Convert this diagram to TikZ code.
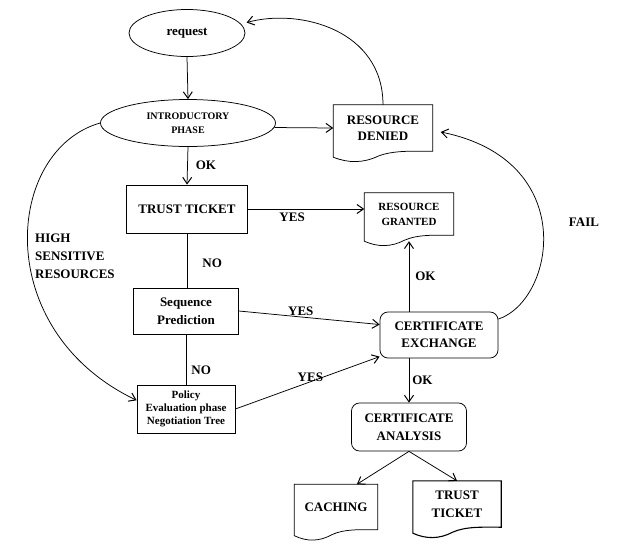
\documentclass[tikz,border=0pt]{standalone}
\usepackage{fontspec}
\setmainfont{Liberation Serif}
\usetikzlibrary{arrows.meta,calc,shapes.geometric}

\newcommand{\fs}[2]{\bfseries\fontsize{#1}{#2}\selectfont}
\tikzset{
  base/.style={font=\fs{13}{17}, align=center, inner sep=0pt},
  ell/.style={base, ellipse, draw, line width=0.75pt},
  box/.style={base, rectangle, draw, line width=0.75pt},
  rbox/.style={box, rounded corners=8pt},
  docnode/.style={base},
  conn/.style={line width=0.75pt, -{Straight Barb[length=6.5pt,width=9pt,line width=1pt]}},
  plainline/.style={line width=0.75pt},
  lbl/.style={font=\fs{13}{17}, inner sep=0pt},
}
\newcommand{\docwave}[2][0.75pt]{%
  \draw[line width=#1] let \p1=(#2.south west), \p2=(#2.north east), \n1={\x2-\x1} in
    (\x1,{\y1-6pt}) -- (\x1,\y2) -- (\x2,\y2) -- (\x2,\y1)
    .. controls ({\x1+0.8*\n1},\y1) and ({\x1+0.6*\n1},{\y1+1pt}) .. ({\x1+0.45*\n1},{\y1-5pt})
    .. controls ({\x1+0.3*\n1},{\y1-12pt}) and ({\x1+0.15*\n1},{\y1-12pt}) .. (\x1,{\y1-6pt}) -- cycle;}

\begin{document}
\begin{tikzpicture}[x=1pt,y=-1pt]
\useasboundingbox (0,0) rectangle (632,552);

% nodes
\node[ell, minimum width=116pt, minimum height=47pt] (req) at (187,33) {request};
\node[ell, minimum width=175pt, minimum height=47pt, font=\fs{10}{14}] (intro) at (188,123) {INTRODUCTORY\\PHASE};
\node[docnode, minimum width=99pt, minimum height=46pt, font=\fs{13}{16}] (rd) at (383,128) {RESOURCE\\DENIED};
\docwave{rd}
\node[box, minimum width=121pt, minimum height=48pt] (tt) at (187,209) {TRUST TICKET};
\node[docnode, minimum width=89pt, minimum height=42pt, font=\fs{11}{15}] (rg) at (409,214) {RESOURCE\\GRANTED};
\docwave{rg}
\node[box, minimum width=105pt, minimum height=46pt, font=\fs{13}{18}] (seq) at (186,311) {Sequence\\Prediction};
\node[box, minimum width=98pt, minimum height=48pt, font=\fs{11}{13}] (pol) at (186,409) {Policy\\Evaluation phase\\Negotiation Tree};
\node[rbox, minimum width=118pt, minimum height=46pt] (ce) at (439,335) {CERTIFICATE\\EXCHANGE};
\node[rbox, minimum width=115pt, minimum height=48pt, font=\fs{13}{18}] (ca) at (409,427) {CERTIFICATE\\ANALYSIS};
\node[docnode, minimum width=83pt, minimum height=45pt] (cach) at (336,507) {CACHING};
\docwave{cach}
\node[docnode, minimum width=88pt, minimum height=46pt, font=\fs{13}{18}] (tt2) at (457,504) {TRUST\\TICKET};
\docwave[1.1pt]{tt2}

\node[lbl, align=left, anchor=west, font=\fs{13}{18}] (hs) at (35,256) {HIGH\\SENSITIVE\\RESOURCES};
\node[lbl] (fail) at (584,222) {FAIL};

% connectors
\draw[conn] (req.south) -- (intro.north);
\draw[conn] (intro.-3) -- (rd.west);
\draw[conn] (intro.south) -- node[lbl, right=8pt] (okA) {OK} (tt.north);
\draw[conn] (tt.east) -- node[lbl, pos=0.38, below=4pt] (yesA) {YES} (tt.east -| rg.west);
\draw[plainline] (tt.south) -- node[lbl, pos=0.55, right=15pt] (noA) {NO} (tt.south |- seq.north);
\draw[plainline] (seq.south) -- node[lbl, pos=0.72, right=5pt] (noB) {NO} (seq.south |- pol.north);
\draw[conn] (seq.east) -- node[lbl, pos=0.44, above=1pt] (yesB) {YES} (ce.170);
\draw[conn] (pol.east) -- node[lbl, pos=0.52, above=0pt] (yesC) {YES} (ce.200);
\draw[conn] (rg.south |- ce.north) -- node[lbl, right=6pt] (okB) {OK} ($(rg.south)+(0,6)$);
\draw[conn] (ce.south -| ca.north) -- node[lbl, right=3pt] (okC) {OK} (ca.north);
\draw[conn] (ca.south) -- ($(cach.north)!0.5!(cach.north east)$);
\draw[conn] (ca.south) -- (tt2.north);
\draw[conn] (rd.north) .. controls (383,30) and (300,8) .. ($(req.10)+(6,-1)$);
\draw[conn] (ce.15) .. controls (555,300) and (580,160) .. ($(rd.east)+(8,4)$);
\draw[conn] (intro.west) .. controls (5,150) and (-10,330) .. (pol.170);
\end{tikzpicture}
\end{document}
